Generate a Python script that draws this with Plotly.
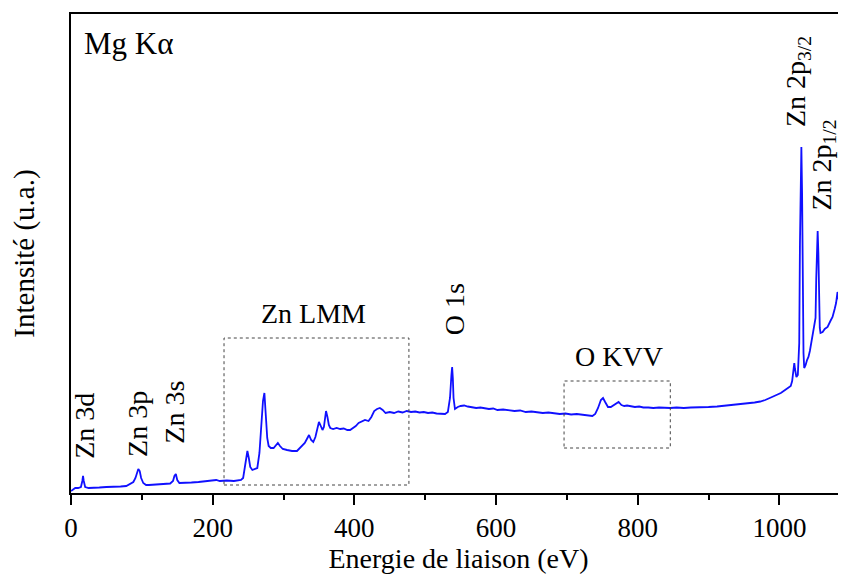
import plotly.graph_objects as go

# Spectre XPS (Mg Ka) (intensité en u.a.)
energie = [0, 3, 6, 10, 14, 16, 17, 18, 20, 25, 30, 40, 50, 60, 70, 78, 84, 88, 91, 93,
           95, 97, 99, 102, 106, 110, 120, 130, 140, 144, 146, 148, 150, 153, 160, 170, 180, 190, 200, 205,
           210, 220, 230, 240, 243, 246, 248, 249, 251, 253, 256, 260, 263, 266, 269, 271, 273, 275, 277, 279,
           282, 286, 290, 292, 295, 299, 305, 312, 319, 325, 330, 333, 336, 339, 342, 345, 348, 350, 352, 355,
           357, 359, 360, 362, 364, 366, 370, 375, 380, 385, 390, 394, 398, 402, 406, 410, 415, 420, 424, 428,
           432, 436, 440, 444, 450, 456, 462, 468, 474, 480, 486, 492, 498, 504, 510, 516, 522, 528, 532, 535,
           537, 538, 539, 540, 542, 546, 550, 555, 560, 566, 572, 578, 584, 590, 596, 602, 610, 618, 626, 634,
           642, 650, 658, 666, 674, 682, 690, 698, 706, 714, 722, 730, 736, 740, 744, 748, 751, 754, 758, 762,
           766, 770, 773, 777, 781, 785, 790, 796, 802, 808, 815, 822, 830, 838, 846, 855, 865, 875, 888, 900,
           912, 925, 935, 945, 955, 965, 973, 980, 988, 995, 1002, 1008, 1013, 1016, 1018, 1020, 1021, 1022, 1024, 1026,
           1028, 1029, 1030, 1031, 1032, 1033, 1034, 1035, 1037, 1039, 1041, 1043, 1045, 1047, 1049, 1051, 1052, 1053, 1054, 1055,
           1056, 1057, 1058, 1061, 1064, 1068, 1072, 1075, 1078, 1080, 1082, 1083, 1085, 1087, 1090, 1094]
intensite = [2, 4, 5, 5, 6, 12, 17, 12, 6, 5, 5, 5.5, 6, 6, 6.5, 7, 9, 11, 15, 20,
             24, 22, 15, 10, 8, 8, 8.5, 9, 9.5, 12, 17, 19, 13, 10, 10, 10.5, 11, 11.5, 12, 13,
             12, 12.5, 12, 13, 15, 28, 40, 42, 35, 26, 23, 24, 25, 40, 70, 92, 100, 80, 55, 47,
             45, 45, 48, 50, 47, 44, 43, 42, 42, 46, 50, 54, 58, 53, 51, 56, 66, 71, 68, 63,
             66, 76, 82, 76, 68, 65, 64, 65, 64, 64.5, 63, 63, 65, 67, 70, 71, 73, 72, 76, 82,
             84, 85, 83, 80, 81, 80, 81.5, 80.5, 82, 81, 81.5, 80.5, 81, 80, 80.5, 79.5, 79, 79, 81, 95,
             118, 126, 115, 95, 84, 86, 87, 87.5, 86.5, 86, 85, 85.5, 84.5, 84, 84.5, 83, 83.5, 82.5, 82, 82.5,
             81, 81.5, 80.5, 80, 80.5, 79.5, 79, 79.5, 78.5, 79, 78, 77.5, 77, 79, 85, 93, 95, 91, 86, 86,
             88, 90, 91, 88, 87, 87.5, 86.5, 86, 86.5, 85.5, 85.5, 85, 85.5, 85, 85, 85.5, 85, 85.5, 85.5, 86,
             86.5, 87.5, 88, 88.5, 89.5, 90.5, 91.5, 93, 95.5, 98, 100, 103, 105, 107, 112, 125, 130, 124, 116, 118,
             150, 250, 320, 346, 300, 200, 140, 125, 128, 133, 136, 142, 150, 156, 163, 175, 215, 250, 262, 240,
             195, 165, 160, 161, 164, 166, 172, 176, 184, 190, 201, 196, 188, 186, 189, 193]

# étiquettes des pics : (texte, x, y, rotation)
pics = [("Zn 3d", 18, 67, -90),
        ("Zn 3p", 93, 69, -90),
        ("Zn 3s", 145, 81, -90),
        ("Zn LMM", 342, 180, 0),
        ("O 1s", 541, 184, -90),
        ("O KVV", 773, 137, 0),
        ("Zn 2p<sub>3/2</sub>", 1025, 411, -90),
        ("Zn 2p<sub>1/2</sub>", 1061, 328, -90)]

# cadres pointillés (x0, x1, y0, y1)
cadres = [(216, 477, 8, 155), (696, 846, 45, 112)]

police = "Liberation Serif"

fig = go.Figure()
fig.add_trace(go.Scatter(x=energie, y=intensite, mode="lines",
                         line=dict(color="#1010ff", width=1.8), showlegend=False))

for x0, x1, y0, y1 in cadres:
    fig.add_shape(type="rect", x0=x0, x1=x1, y0=y0, y1=y1,
                  line=dict(color="#444444", width=1, dash="dot"))

for texte, x, y, angle in pics:
    fig.add_annotation(x=x, y=y, text=texte, textangle=angle, showarrow=False,
                       xanchor="center", yanchor="middle",
                       font=dict(family=police, size=28, color="black"))

fig.add_annotation(xref="paper", yref="paper", x=0.014, y=0.939, text="Mg Kα",
                   showarrow=False, xanchor="left", yanchor="middle",
                   font=dict(family=police, size=31, color="black"))

fig.update_xaxes(range=[0, 1094], dtick=200, tick0=0, showgrid=False, zeroline=False,
                 showline=True, linecolor="black", linewidth=1.5, mirror=True,
                 ticks="outside", ticklen=10, tickwidth=1.5, tickcolor="black",
                 minor=dict(dtick=100, ticks="outside", ticklen=5, tickwidth=1.5, tickcolor="black"),
                 tickfont=dict(family=police, size=27, color="black"), automargin=False,
                 title=dict(text="Energie de liaison (eV)", standoff=6,
                            font=dict(family=police, size=28, color="black")))
fig.update_yaxes(range=[0, 479], showgrid=False, zeroline=False, showticklabels=False,
                 showline=True, linecolor="black", linewidth=1.5, ticks="", automargin=False,
                 title=dict(text="Intensité (u.a.)", standoff=28,
                            font=dict(family=police, size=29, color="black")))

# la page ajoute 8 px de marge autour de la figure
fig.update_layout(width=838, height=567, plot_bgcolor="white", paper_bgcolor="white",
                  font=dict(family=police, color="black"),
                  margin=dict(l=63, r=0, t=6, b=82))

fig.write_html("out.html")
